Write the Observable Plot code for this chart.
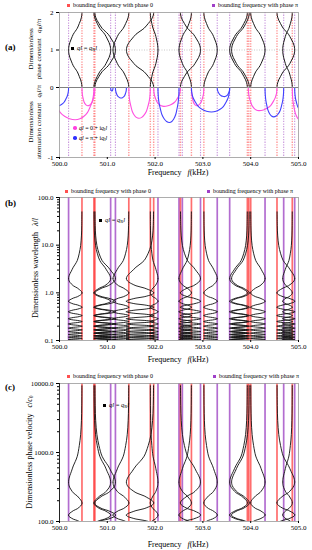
<!DOCTYPE html>
<html><head><meta charset="utf-8">
<script src="https://cdn.jsdelivr.net/npm/d3@7"></script>
<script src="https://cdn.jsdelivr.net/npm/@observablehq/plot@0.6"></script>
<style>
body{margin:0;background:#fff;font-family:"Liberation Serif",serif;color:#000;}
#wrap{position:relative;width:312px;height:550px;overflow:hidden;background:#fff;}
.t{position:absolute;white-space:nowrap;line-height:1;}
.rot{position:absolute;white-space:nowrap;line-height:1;transform:translate(-50%,-50%) rotate(-90deg);font-size:8px;}
.leg{font-size:6px;}
.mk{position:absolute;width:3px;height:3px;}
#wrap svg{position:absolute;left:0;overflow:visible;}
sub{font-size:70%;vertical-align:-1px;line-height:0;}
</style></head><body><div id="wrap"></div>
<script>
// ---------- data ----------
const freqTicks = [500, 501, 502, 503, 504, 505];
// bounding frequencies (kHz)
const bound0  = [500.47, 500.72, 500.74, 501.45, 501.90, 501.97, 502.53, 502.76, 503.02, 503.93, 503.96, 504.00, 504.55, 504.87];
const boundPi = [500.19, 501.07, 501.17, 502.06, 502.50, 502.57, 502.95, 503.30, 503.56, 504.30, 504.69, 504.92];
// pass bands: start, end frequency and q_R l/π at the start (0 or 1)
const passStart = [500.19, 500.72, 500.74, 501.12, 501.40, 501.90, 502.50, 502.53, 503.02, 503.56, 503.60, 504.00, 504.55, 504.67];
const passEnd   = [500.47, 501.07, 501.17, 501.45, 501.97, 502.06, 502.76, 502.95, 503.30, 503.93, 503.97, 504.30, 504.92, 504.87];
const passV0    = [1, 0, 0, 1, 1, 0, 1, 0, 0, 1, 1, 0, 0, 1];
// normalised shape of one pass-band branch (fraction of band, q_R l/π)
const passShapeT = [0, 0.004, 0.015, 0.04, 0.1, 0.2, 0.35, 0.5, 0.65, 0.8, 0.9, 0.96, 0.985, 0.996, 1];
const passShapeV = [0, 0.04, 0.078, 0.128, 0.205, 0.295, 0.42, 0.5, 0.58, 0.705, 0.795, 0.872, 0.922, 0.96, 1];
// stop bands, phase 0 (magenta): start, frequency of minimum, end, minimum q_I l/π
const stop0Start = [499.85, 500.47, 501.45, 501.97, 502.76, 503.95, 504.87];
const stop0Min   = [500.33, 500.59, 501.66, 502.18, 502.87, 504.17, 505.05];
const stop0End   = [500.72, 500.74, 501.90, 502.53, 503.02, 504.55, 505.20];
const stop0Depth = [-0.46, -0.26, -0.44, -0.27, -0.26, -0.33, -0.47];
// stop bands, phase π (blue)
const stopPiStart = [499.80, 501.07, 501.17, 502.06, 502.76, 503.30, 504.30, 504.92];
const stopPiMin   = [499.92, 501.095, 501.29, 502.30, 503.18, 503.45, 504.48, 505.10];
const stopPiEnd   = [500.19, 501.12, 501.40, 502.50, 503.56, 503.56, 504.69, 505.30];
const stopPiDepth = [-0.27, -0.05, -0.15, -0.50, -0.35, -0.13, -0.42, -0.35];
// normalised half shape of a stop-band curve (edge -> minimum)
const stopShapeS = [0, 0.01, 0.04, 0.1, 0.2, 0.35, 0.55, 0.75, 1];
const stopShapeD = [0, 0.16, 0.3, 0.45, 0.6, 0.78, 0.9, 0.97, 1];
const lamTicks = [0.1, 1, 10, 100];
const velTicks = [100, 1000, 10000];
const velScale = 185; // c/c0 for λ/l = 1 at 500 kHz

// ---------- build tables ----------
const passRows = [];
passStart.forEach((fs, i) => {
  const fe = passEnd[i];
  passShapeT.forEach((t, k) => {
    const f = fs + t * (fe - fs);
    const v = passV0[i] === 0 ? passShapeV[k] : 1 - passShapeV[k];
    passRows.push({f, w: v, id: i + "a"});
    passRows.push({f, w: 2 - v, id: i + "b"});
  });
});
passRows.sort((a, b) => a.id < b.id ? -1 : a.id > b.id ? 1 : a.f - b.f);

function stopRows(S, M, E, D, kind) {
  const rows = [];
  S.forEach((fs, i) => {
    stopShapeS.forEach((s, k) => rows.push({f: fs + s * (M[i] - fs), v: stopShapeD[k] * D[i], id: kind + i}));
    for (let k = stopShapeS.length - 2; k >= 0; k--) rows.push({f: E[i] - stopShapeS[k] * (E[i] - M[i]), v: stopShapeD[k] * D[i], id: kind + i});
  });
  return rows;
}
const stop0 = stopRows(stop0Start, stop0Min, stop0End, stop0Depth, "m");
const stopPi = stopRows(stopPiStart, stopPiMin, stopPiEnd, stopPiDepth, "b");

const lamRows = [], velRows = [];
for (const p of passRows) {
  for (let n = 0; n <= 10; n++) {
    const x = p.w + 2 * n;
    if (x <= 0) continue;
    lamRows.push({f: p.f, y: 2 / x, id: p.id + "_" + n});
    const c = velScale * (p.f / 500) * 2 / x;
    if (c > 50) velRows.push({f: p.f, y: c, id: p.id + "_" + n});
  }
}

// ---------- drawing ----------
const wrap = document.getElementById("wrap");
const FONT = "Liberation Serif, serif";
const ML = 59, MR = 14;
const xFmt = d3.format(".1f");
const RED = "#ff3030", PUR = "#9a3cc0";

function place(svg, top) { svg.style.top = top + "px"; wrap.appendChild(svg); }
function html(s, left, top, cls, extra) {
  const d = document.createElement("div");
  d.className = cls || "t";
  d.innerHTML = s;
  d.style.left = left + "px"; d.style.top = top + "px";
  if (extra) Object.assign(d.style, extra);
  wrap.appendChild(d);
  return d;
}

const base = {width: 312, marginLeft: ML, marginRight: MR, style: {fontFamily: FONT, fontSize: "7px", color: "#000", background: "transparent"}};

// (a) upper
place(Plot.plot({
  ...base, height: 87, marginTop: 12, marginBottom: 0,
  x: {domain: [500, 505], axis: null},
  y: {domain: [0, 2], label: null},
  marks: [
    Plot.ruleY([1], {stroke: "#bbb", strokeWidth: 0.8, strokeDasharray: "1,1.5"}),
    Plot.ruleX(bound0, {stroke: RED, strokeOpacity: 0.5, strokeWidth: 1.4, strokeDasharray: "1.3,1.3"}),
    Plot.ruleX(boundPi, {stroke: PUR, strokeOpacity: 0.55, strokeWidth: 1.1, strokeDasharray: "1.3,1.3"}),
    Plot.line(passRows, {x: "f", y: "w", z: "id", stroke: "#1a1a1a", strokeWidth: 1, curve: "catmull-rom", clip: true}),
    Plot.frame({stroke: "#999", strokeWidth: 0.8}),
    Plot.axisY({ticks: [0, 1, 2], tickFormat: d => String(d), tickSize: 3, tickPadding: 3, label: null}),
    Plot.ruleY([0], {stroke: "#222", strokeWidth: 1})
  ]
}), 0);

// (a) lower
place(Plot.plot({
  ...base, height: 91, marginTop: 0, marginBottom: 21,
  x: {domain: [500, 505]},
  y: {domain: [-1, 0], label: null},
  marks: [
    Plot.ruleX(bound0, {stroke: RED, strokeOpacity: 0.5, strokeWidth: 1.4, strokeDasharray: "1.3,1.3"}),
    Plot.ruleX(boundPi, {stroke: PUR, strokeOpacity: 0.55, strokeWidth: 1.1, strokeDasharray: "1.3,1.3"}),
    Plot.line(stop0, {x: "f", y: "v", z: "id", stroke: "#ff4fe0", strokeWidth: 1.1, curve: "catmull-rom", clip: true}),
    Plot.line(stopPi, {x: "f", y: "v", z: "id", stroke: "#4040ff", strokeWidth: 1.1, curve: "catmull-rom", clip: true}),
    Plot.frame({stroke: "#999", strokeWidth: 0.8}),
    Plot.axisY({ticks: [-1], tickFormat: d => String(d), tickSize: 3, tickPadding: 3, label: null}),
    Plot.axisX({ticks: freqTicks, tickFormat: xFmt, tickSize: 2, tickPadding: 2, label: null})
  ]
}), 87);

const minorLam = [], minorVel = [];
[0.1, 1, 10].forEach(d => { for (let k = 2; k <= 9; k++) minorLam.push(d * k); });
[100, 1000].forEach(d => { for (let k = 2; k <= 9; k++) minorVel.push(d * k); });

function logPanel(rows, domain, ticks, minor, height, mt, top) {
  place(Plot.plot({
    ...base, height, marginTop: mt, marginBottom: 20,
    x: {domain: [500, 505]},
    y: {type: "log", domain, label: null},
    marks: [
      Plot.ruleX(boundPi, {stroke: PUR, strokeOpacity: 0.75, strokeWidth: 1.7}),
      Plot.ruleX(bound0, {stroke: RED, strokeOpacity: 0.7, strokeWidth: 1.7}),
      Plot.line(rows, {x: "f", y: "y", z: "id", stroke: "#111", strokeWidth: 1, strokeOpacity: 0.9, curve: "catmull-rom", clip: true}),
      Plot.frame({stroke: "#999", strokeWidth: 0.8}),
      Plot.ruleX([500], {stroke: "#000", strokeWidth: 0.8}),
      Plot.axisY({ticks: minor, tickFormat: () => "", tickSize: 2, label: null}),
      Plot.axisY({ticks, tickFormat: xFmt, tickSize: 3, tickPadding: 3, label: null}),
      Plot.axisX({ticks: freqTicks, tickFormat: xFmt, tickSize: 2, tickPadding: 2, label: null})
    ]
  }), top);
}
logPanel(lamRows, [0.1, 100], lamTicks, minorLam, 170, 7, 190);
logPanel(velRows, [100, 10000], velTicks, minorVel, 166, 8, 375);

// ---------- texts ----------
const ql = '<i>ql</i> = <i>q</i><sub>R</sub><i>l</i>';
function legendRow(top, xr, xp) {
  const a = document.createElement("div"); a.className = "mk"; Object.assign(a.style, {left: xr + "px", top: (top + 2) + "px", background: "#ff5050"}); wrap.appendChild(a);
  html("bounding frequency with phase 0", xr + 6, top, "t leg");
  const b = document.createElement("div"); b.className = "mk"; Object.assign(b.style, {left: xp + "px", top: (top + 2) + "px", background: "#a040c8"}); wrap.appendChild(b);
  html("bounding frequency with phase π", xp + 6, top, "t leg");
}
legendRow(2, 67, 212);
legendRow(188, 65, 207);
legendRow(373, 67, 213);

function dot(left, top, color, size) {
  const a = document.createElement("div"); a.className = "mk";
  Object.assign(a.style, {left: left + "px", top: top + "px", width: size + "px", height: size + "px", background: color, borderRadius: size > 3 ? "50%" : "0"});
  wrap.appendChild(a);
}
dot(71, 47, "#000", 3); html(ql, 77, 45, "t", {fontSize: "6.5px"});
dot(99, 219, "#000", 3); html(ql, 105, 217, "t", {fontSize: "6.5px"});
dot(103, 404, "#000", 3); html(ql, 109, 402, "t", {fontSize: "6.5px"});
dot(73, 126, "#ff40e0", 3.5); html('<i>ql</i> = 0 + i<i>q</i><sub>I</sub><i>l</i>', 79, 125, "t", {fontSize: "6px"});
dot(73, 136, "#3030ff", 3.5); html('<i>ql</i> = π + i<i>q</i><sub>I</sub><i>l</i>', 79, 135, "t", {fontSize: "6px"});

html("<b>(a)</b>", 5, 43, "t", {fontSize: "9px"});
html("<b>(b)</b>", 5, 199, "t", {fontSize: "9px"});
html("<b>(c)</b>", 5, 383, "t", {fontSize: "9px"});

html("Dimensionless", 31, 49, "rot", {fontSize: "7px"});
html('phase constant&nbsp;&nbsp; <i>q</i><sub>R</sub><i>l</i>/π', 39, 49, "rot", {fontSize: "7px"});
html("Dimensionless", 31, 122, "rot", {fontSize: "7px"});
html('attenuation constant&nbsp;&nbsp; <i>q</i><sub>I</sub><i>l</i>/π', 39, 122, "rot", {fontSize: "7px"});
html('Dimensionless wavelength&nbsp;&nbsp; <i>λ</i>/<i>l</i>', 36, 268, "rot");
html('Dimensionless phase velocity&nbsp;&nbsp; <i>c</i>/<i>c</i><sub>0</sub>', 30, 452, "rot");

function freqLabel(top) {
  const d = html('Frequency&nbsp;&nbsp; <i>f</i>(kHz)', 178, top, "t", {fontSize: "8px"});
  d.style.transform = "translateX(-50%)";
}
freqLabel(169);
freqLabel(356);
freqLabel(541);
</script></body></html>
